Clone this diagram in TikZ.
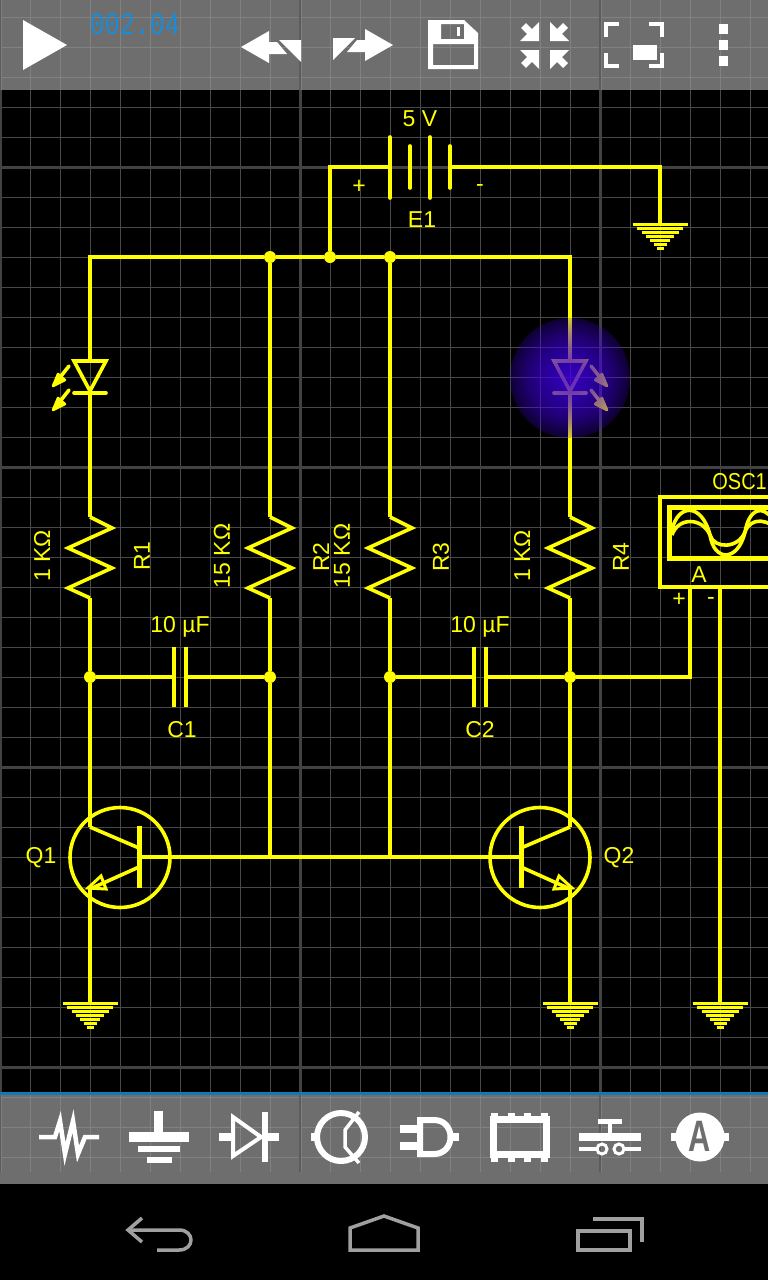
\documentclass[tikz,border=0pt]{standalone}
\usepackage{fontspec}
\setmainfont{Liberation Sans}
\newfontfamily\lcdfont{Liberation Mono}
\definecolor{wireyellow}{RGB}{255,255,0}
\definecolor{gridminor}{RGB}{72,72,72}
\definecolor{gridmajor}{RGB}{66,66,66}
\definecolor{glowblue}{RGB}{72,0,240}
\definecolor{navgray}{RGB}{160,160,160}
\definecolor{timerblue}{RGB}{26,140,215}
\definecolor{barblue}{RGB}{20,120,180}
\definecolor{bargray}{RGB}{149,149,149}
\definecolor{barline}{RGB}{92,92,92}
\tikzset{
  wire/.style={draw=wireyellow, line width=3.6pt},
  jdot/.style={circle, fill=wireyellow, inner sep=0pt, minimum size=12pt},
  lbl/.style={text=wireyellow, inner sep=0pt, font=\fontsize{23}{23}\selectfont},
  gridline/.style={draw=gridminor, line width=1pt},
  gridbold/.style={draw=gridmajor, line width=3pt},
  icon/.style={draw=white, line width=5pt},
  navicon/.style={draw=navgray, line width=3.5pt},
  resistor/.pic={
    \draw[wire, line join=miter] (0,-40) -- (22,-29) -- (-22,-9) -- (22,11) -- (-22,31) -- (0,41);
    \coordinate (-top) at (0,-40);
    \coordinate (-bot) at (0,41);
  },
  ground/.pic={
    \foreach \w [count=\n from 0] in {27.5,23,18.5,14,10,6.5,3.5}
      \draw[draw=wireyellow, line width=3pt] (-\w,\n*4+1) -- (\w,\n*4+1);
    \coordinate (-in) at (0,0);
  },
  ledlamp/.pic={
    \draw[wire, line join=miter] (-16,-16) -- (16,-16) -- (0,14) -- cycle;
    \draw[wire, line cap=round] (-16,16) -- (16,16);
    \foreach \dy in {0,24} {
      \draw[wire, line cap=round] (21,-11+\dy) -- (36,8+\dy);
      \draw[draw=wireyellow, fill=wireyellow, line width=2.5pt, line join=round] (25,3+\dy) -- (37,9+\dy) -- (32,-3+\dy) -- cycle;
    }
    \coordinate (-a) at (0,-16);
    \coordinate (-k) at (0,16);
  },
  npn/.pic={
    \draw[wire] (0,0.5) circle[radius=50pt];
    \draw[draw=wireyellow, line width=5pt] (19,-31) -- (19,31);
    \draw[wire] (19,-9) -- (-30,-30);
    \draw[wire] (19,10) -- (-30,32);
    \draw[draw=wireyellow, line width=3pt] (-32,31) -- (-19,19) -- (-14,32) -- cycle;
    \coordinate (-b) at (19,0);
    \coordinate (-c) at (-30,-30);
    \coordinate (-e) at (-30,32);
  },
  capacitor/.pic={
    \draw[wire] (-6,-30) -- (-6,30);
    \draw[wire] (6,-30) -- (6,30);
    \coordinate (-l) at (-6,0);
    \coordinate (-r) at (6,0);
  },
}
\begin{document}
\begin{tikzpicture}[x=1pt,y=-1pt]
  \useasboundingbox (0,0) rectangle (768,1280);
  \clip (0,0) rectangle (768,1280);
  \fill[black] (0,0) rectangle (768,1280);
  % grid
  \foreach \x in {30,60,...,750} \draw[gridline] (\x+0.5,0) -- (\x+0.5,1172);
  \foreach \y in {17,47,...,1157} \draw[gridline] (0,\y+0.5) -- (768,\y+0.5);
  \foreach \x in {0,300,600} \draw[gridbold] (\x,0) -- (\x,1172);
  \foreach \y in {167,467,767,1067} \draw[gridbold] (0,\y) -- (768,\y);

  % junctions
  \node[jdot] (j1) at (270,257) {};
  \node[jdot] (j2) at (330,257) {};
  \node[jdot] (j3) at (390,257) {};
  \node[jdot] (j4) at (90,677) {};
  \node[jdot] (j5) at (270,677) {};
  \node[jdot] (j6) at (390,677) {};
  \node[jdot] (j7) at (570,677) {};
  \coordinate (railL) at (90,257);
  \coordinate (railR) at (570,257);
  \coordinate (battL) at (330,167);
  \coordinate (battR) at (660,167);
  \coordinate (b1) at (270,857);
  \coordinate (b2) at (390,857);
  \coordinate (oscP) at (690,587);
  \coordinate (oscM) at (720,587);
  \coordinate (oscT) at (690,677);

  % battery
  \coordinate (E1plus) at (390,167);
  \coordinate (E1minus) at (450,167);
  \draw[wire, line cap=round] (390,137) -- (390,198);
  \draw[wire, line cap=round] (410,146) -- (410,188);
  \draw[wire, line cap=round] (430,137) -- (430,198);
  \draw[wire, line cap=round] (450,146) -- (450,188);

  % parts
  \pic (G0) at (660,223) {ground};
  \pic (G1) at (90,1002) {ground};
  \pic (G2) at (570,1002) {ground};
  \pic (G3) at (720,1002) {ground};
  \pic (R1) at (90,557) {resistor};
  \pic (R2) at (270,557) {resistor};
  \pic (R3) at (390,557) {resistor};
  \pic (R4) at (570,557) {resistor};
  \pic (C1) at (180,677) {capacitor};
  \pic (C2) at (480,677) {capacitor};
  \pic[xscale=-1] (L1) at (90,377) {ledlamp};
  \pic (L2) at (570,377) {ledlamp};
  \pic (Q1) at (120,857) {npn};
  \pic[xscale=-1] (Q2) at (540,857) {npn};

  % wires
  \draw[wire] (E1plus) -- (battL) -- (j2);
  \draw[wire] (E1minus) -- (battR) -- (G0-in);
  \draw[wire] (L1-a) -- (railL) -- (j1);
  \draw[wire] (j1) -- (j2);
  \draw[wire] (j2) -- (j3);
  \draw[wire] (j3) -- (railR) -- (L2-a);
  \draw[wire] (L1-k) -- (R1-top);
  \draw[wire] (L2-k) -- (R4-top);
  \draw[wire] (j1) -- (R2-top);
  \draw[wire] (j3) -- (R3-top);
  \draw[wire] (R1-bot) -- (j4);
  \draw[wire] (R2-bot) -- (j5);
  \draw[wire] (R3-bot) -- (j6);
  \draw[wire] (R4-bot) -- (j7);
  \draw[wire] (j4) -- (C1-l);
  \draw[wire] (C1-r) -- (j5);
  \draw[wire] (j6) -- (C2-l);
  \draw[wire] (C2-r) -- (j7);
  \draw[wire] (j7) -- (oscT) -- (oscP);
  \draw[wire] (oscM) -- (G3-in);
  \draw[wire] (j4) -- (Q1-c);
  \draw[wire] (j7) -- (Q2-c);
  \draw[wire] (Q1-e) -- (G1-in);
  \draw[wire] (Q2-e) -- (G2-in);
  \draw[wire] (j5) -- (b1);
  \draw[wire] (j6) -- (b2);
  \draw[wire] (Q1-b) -- (b1) -- (b2) -- (Q2-b);

  % oscilloscope
  \draw[wire] (660,497) rectangle (790,587);
  \draw[draw=wireyellow, line width=5pt] (669,507) rectangle (790,558);
  \draw[wire] (672,530) .. controls (678,503) and (702,503) .. (710,535)
    .. controls (714,562) and (738,562) .. (745,532) .. controls (750,503) and (770,503) .. (780,535);
  \draw[wire] (672,535) .. controls (678,517) and (702,517) .. (710,535)
    .. controls (714,549) and (738,549) .. (745,532) .. controls (750,517) and (770,517) .. (780,535);

  % glowing lamp
  \fill[glowblue, opacity=0.22] (570,378) circle[radius=60pt];
  \foreach \r in {58,56,...,2}
    \fill[glowblue, opacity=0.046] (570,378) circle[radius=\r pt];

  % labels
  \node[lbl] (E1val) at (420,119) {5 V};
  \node[lbl] (E1name) at (422,220) {E1};
  \node[lbl] (E1p) at (359,186.5) {+};
  \node[lbl] (E1m) at (480,188) {-};
  \node[lbl, rotate=90] (R1val) at (42,556) {1 KΩ};
  \node[lbl, rotate=90] (R1name) at (142,556) {R1};
  \node[lbl, rotate=90] (R2val) at (222,556) {15 KΩ};
  \node[lbl, rotate=90] (R2name) at (321,557) {R2};
  \node[lbl, rotate=90] (R3val) at (342,556) {15 KΩ};
  \node[lbl, rotate=90] (R3name) at (441,557) {R3};
  \node[lbl, rotate=90] (R4val) at (522,556) {1 KΩ};
  \node[lbl, rotate=90] (R4name) at (621,557) {R4};
  \node[lbl] (C1val) at (180,627) {10 µF};
  \node[lbl] (C1name) at (182,730) {C1};
  \node[lbl] (C2val) at (480,627) {10 µF};
  \node[lbl] (C2name) at (480,730) {C2};
  \node[lbl] (Q1name) at (41,858) {Q1};
  \node[lbl] (Q2name) at (619,858) {Q2};
  \node[lbl, anchor=east, xscale=0.87] (oscname) at (767,482) {OSC1};
  \node[lbl] (oscA) at (699,575) {A};
  \node[lbl] (oscplus) at (679,600) {+};
  \node[lbl] (oscminus) at (711,601) {-};

  % top bar
  \fill[bargray, opacity=0.74] (0,0) rectangle (768,90);
  \foreach \x in {0,300,600} \draw[draw=barline, line width=2pt] (\x,0) -- (\x,90);
  \node[text=timerblue, inner sep=0pt, yscale=1.25, font=\lcdfont\fontsize{25}{25}\selectfont] (timer) at (135,24) {002.04};
  \fill[white] (23,20) -- (67,45) -- (23,70) -- cycle;
  \fill[white] (241,47) -- (269,31) -- (269,42) -- (277,42) -- (287,54) -- (269,54) -- (269,63) -- cycle;
  \fill[white] (279,40) -- (301,40) -- (301,62) -- cycle;
  \fill[white] (393,45) -- (365,29) -- (365,40) -- (357,40) -- (347,52) -- (365,52) -- (365,61) -- cycle;
  \fill[white] (333,38) -- (355,38) -- (333,60) -- cycle;
  \fill[white, even odd rule] (428,20) -- (464,20) -- (478,33) -- (478,69) -- (428,69) -- cycle
    (441,24) rectangle (464,39) (433,44) rectangle (474,65);
  \fill[white] (457,27) rectangle (460,36);
  \foreach \sx/\sy in {1/1,-1/1,1/-1,-1/-1} {
    \begin{scope}[shift={(544.5,45.5)}, xscale=\sx, yscale=\sy]
      \fill[white] (-24.5,-4.5) -- (-5.5,-4.5) -- (-5.5,-23.5) -- cycle;
      \draw[draw=white, line width=7pt] (-21,-20) -- (-11,-10);
    \end{scope}
    \begin{scope}[shift={(634,45)}, xscale=\sx, yscale=\sy]
      \fill[white] (-30,-23) rectangle (-15,-19);
      \fill[white] (-30,-23) rectangle (-26,-8);
    \end{scope}
  }
  \fill[white] (633,45) rectangle (657,60);
  \foreach \y in {24,40,56} \fill[white] (719,\y) rectangle (728,\y+10);

  % bottom bar
  \fill[bargray, opacity=0.74] (0,1094) rectangle (768,1184);
  \foreach \x in {0,300,600} \draw[draw=barline, line width=2pt] (\x,1094) -- (\x,1172);
  \fill[barblue] (0,1092) rectangle (768,1095);
  \draw[icon, line join=miter, line width=4.5pt] (39,1137) -- (55,1137) -- (60,1121) -- (65,1154) -- (73,1121) -- (78,1154) -- (85,1137) -- (99,1137);
  \fill[white] (154,1111) rectangle (163,1133);
  \fill[white] (129,1132) rectangle (189,1142);
  \fill[white] (138,1146) rectangle (180,1152);
  \fill[white] (147,1157) rectangle (172,1163);
  \draw[icon, line width=4pt, line join=miter] (233,1117) -- (233,1156) -- (261,1137) -- cycle;
  \fill[white] (219,1133) rectangle (233,1141);
  \fill[white] (262,1112) rectangle (268,1162);
  \fill[white] (268,1133) rectangle (279,1141);
  \draw[icon, line width=6pt] (341,1137) circle[radius=24pt];
  \fill[white] (311,1133) rectangle (319,1141);
  \draw[icon, line width=3.5pt] (359,1112) -- (345,1130) -- (345,1147) -- (359,1163);
  \draw[icon, line width=6pt] (420,1120) -- (434,1120) .. controls (456,1120) and (456,1154) .. (434,1154) -- (420,1154) -- cycle;
  \fill[white] (400,1125) rectangle (417,1133);
  \fill[white] (400,1142) rectangle (417,1150);
  \fill[white] (452,1133) rectangle (459,1141);
  \draw[icon, line width=7pt] (493.5,1119.5) rectangle (546,1154.5);
  \foreach \x in {491,508,524,541} {
    \fill[white] (\x,1113) rectangle (\x+7,1120);
    \fill[white] (\x,1155) rectangle (\x+7,1162);
  }
  \fill[white] (598,1119) rectangle (622,1124);
  \fill[white] (608,1124) rectangle (612,1133);
  \fill[white] (579,1133) rectangle (641,1141);
  \draw[icon, line width=3.5pt] (579,1149) -- (597,1149) (624,1149) -- (641,1149);
  \draw[icon, line width=3pt] (602,1149) circle[radius=5pt] (619,1149) circle[radius=5pt];
  \fill[white] (671,1133) rectangle (729,1141);
  \fill[white] (700,1137) circle[radius=24.5pt];
  \node[text=black!57, inner sep=0pt, xscale=0.7, font=\bfseries\fontsize{44}{44}\selectfont] (ampA) at (700,1136) {A};

  % navigation bar
  \fill[black] (0,1184) rectangle (768,1280);
  \draw[navicon] (142,1218) -- (128,1230) -- (142,1242);
  \draw[navicon] (128,1230) -- (179,1230) .. controls (195,1230) and (195,1250) .. (179,1250) -- (157,1250);
  \draw[navicon, line join=miter] (350,1228) -- (384,1216) -- (418,1228) -- (418,1250) -- (350,1250) -- cycle;
  \draw[navicon] (578,1231) rectangle (630,1250);
  \draw[navicon] (593,1219) -- (642,1219) -- (642,1242);
\end{tikzpicture}
\end{document}
